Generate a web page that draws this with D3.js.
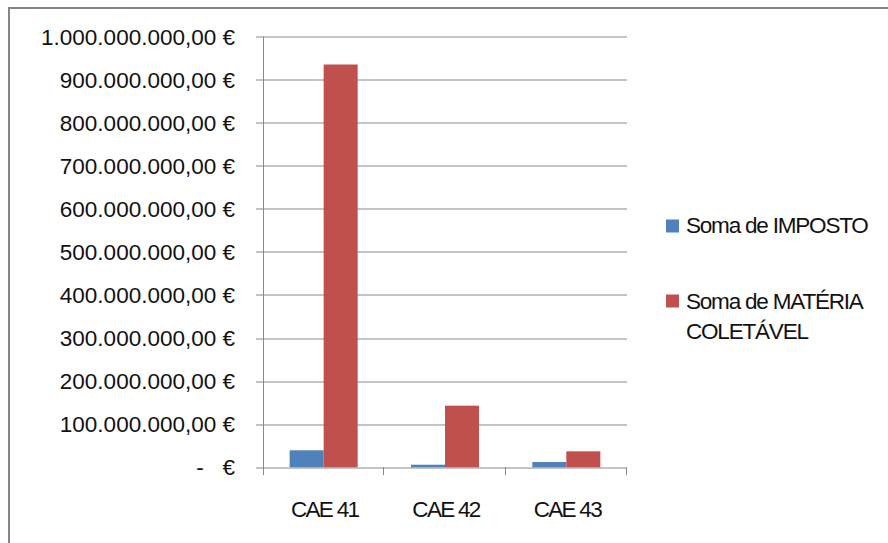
<!DOCTYPE html>
<html>
<head>
<meta charset="utf-8">
<script src="https://cdn.jsdelivr.net/npm/d3@7"></script>
<style>
  html, body { margin: 0; padding: 0; background: #fff; }
  svg { display: block; font-family: "Liberation Sans", Arial, sans-serif; }
</style>
</head>
<body>
<svg id="chart" width="888" height="543"></svg>
<script>
const categories = ["CAE 41", "CAE 42", "CAE 43"];
const seriesNames = ["Soma de IMPOSTO", "Soma de MATÉRIA COLETÁVEL"];
const imposto = [39500000, 6000000, 12300000];
const materia = [935000000, 143000000, 37000000];
const yTickValues = [0, 100000000, 200000000, 300000000, 400000000, 500000000,
                     600000000, 700000000, 800000000, 900000000, 1000000000];
const colors = ["#4F81BD", "#C0504D"];

const svg = d3.select("#chart");
const margin = { left: 263, top: 36.5 };
const plotW = 364, plotH = 430.8;

// outer chart border (bottom/right fall outside the view)
svg.append("rect")
  .attr("x", 9).attr("y", 8)
  .attr("width", 1000).attr("height", 1000)
  .attr("fill", "none").attr("stroke", "#868686").attr("stroke-width", 2);

const g = svg.append("g").attr("transform", `translate(${margin.left},${margin.top})`);

const y = d3.scaleLinear().domain([0, 1000000000]).range([plotH, 0]);
const x0 = d3.scaleBand().domain(categories).range([0, plotW]).paddingInner(0).paddingOuter(0);
const x1 = d3.scaleBand().domain(seriesNames).range([0, x0.bandwidth()]).paddingInner(0).paddingOuter(0.784);

const locale = d3.formatLocale({ decimal: ",", thousands: ".", grouping: [3], currency: ["", " €"] });
const fmt = locale.format(",.2f");
const label = v => v === 0 ? "-   €" : fmt(v) + " €";

// gridlines
g.append("g").selectAll("line").data(yTickValues).join("line")
  .attr("x1", -7).attr("x2", plotW)
  .attr("y1", d => Math.round(y(d)) + 0.5).attr("y2", d => Math.round(y(d)) + 0.5)
  .attr("stroke", "#898989").attr("stroke-width", 1);

// tick labels
g.append("g").selectAll("text").data(yTickValues).join("text")
  .attr("x", -28).attr("y", d => y(d))
  .attr("dy", "0.36em")
  .attr("text-anchor", "end")
  .attr("font-size", 22.5)
  .style("white-space", "pre")
  .attr("fill", "#111")
  .text(label);

// y axis line
g.append("line")
  .attr("x1", 0.5).attr("x2", 0.5)
  .attr("y1", y(1000000000)).attr("y2", y(0) + 8)
  .attr("stroke", "#898989");

// category tick marks at band boundaries
const boundaries = categories.map(c => x0(c) + x0.bandwidth());
g.append("g").selectAll("line").data(boundaries).join("line")
  .attr("x1", d => Math.round(d) - 0.5).attr("x2", d => Math.round(d) - 0.5)
  .attr("y1", y(0)).attr("y2", y(0) + 8)
  .attr("stroke", "#898989");

// bars
const rows = categories.map((c, i) => ({ cat: c, vals: [imposto[i], materia[i]] }));
const groups = g.append("g").selectAll("g").data(rows).join("g")
  .attr("transform", d => `translate(${x0(d.cat)},0)`);
groups.selectAll("rect").data(d => d.vals.map((v, j) => ({ v, s: seriesNames[j], j })))
  .join("rect")
  .attr("x", d => x1(d.s))
  .attr("width", x1.bandwidth())
  .attr("y", d => y(d.v))
  .attr("height", d => y(0) - y(d.v))
  .attr("fill", d => colors[d.j]);

// category labels
g.append("g").selectAll("text").data(categories).join("text")
  .attr("x", d => x0(d) + x0.bandwidth() / 2 + 1)
  .attr("y", 517 - margin.top)
  .attr("text-anchor", "middle")
  .attr("font-size", 22.5)
  .attr("letter-spacing", -1.7)
  .attr("fill", "#111")
  .text(d => d);

// legend
const legendItems = [
  { lines: ["Soma de IMPOSTO"], color: colors[0], sqY: 219.5, baseY: 233 },
  { lines: ["Soma de MATÉRIA", "COLETÁVEL"], color: colors[1], sqY: 294.5, baseY: 309 }
];
const lg = svg.append("g");
legendItems.forEach(it => {
  lg.append("rect").attr("x", 666).attr("y", it.sqY).attr("width", 13).attr("height", 13).attr("fill", it.color);
  const t = lg.append("text").attr("x", 686).attr("y", it.baseY)
    .attr("font-size", 22.5).attr("letter-spacing", -1.2).attr("fill", "#111");
  it.lines.forEach((l, k) => {
    t.append("tspan").attr("x", 686).attr("y", it.baseY + k * 29.5).text(l);
  });
});
</script>
</body>
</html>
